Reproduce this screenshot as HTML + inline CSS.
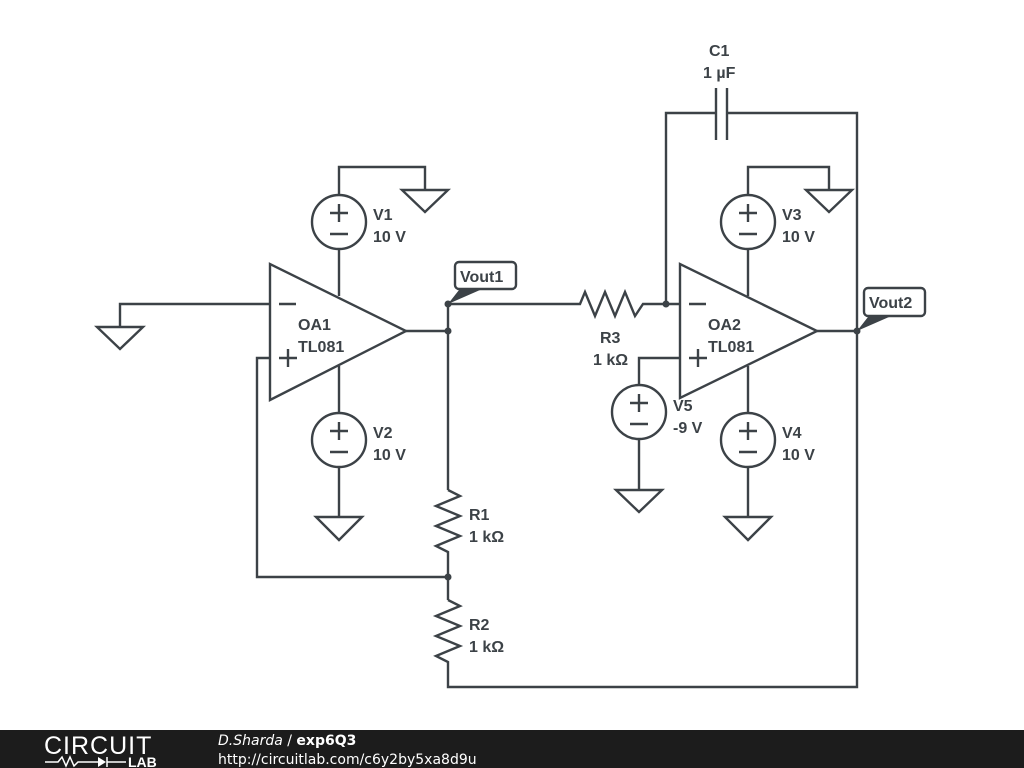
<!DOCTYPE html>
<html><head><meta charset="utf-8"><style>
body{margin:0;width:1024px;height:768px;overflow:hidden;background:#fff}
svg{display:block}
text{font-family:"Liberation Sans",Arial,sans-serif;font-weight:bold;font-size:16px;fill:#3c4247}
</style></head><body>
<svg width="1024" height="768" viewBox="0 0 1024 768">
<g stroke="#3c4247" stroke-width="2.4" fill="none">
<!-- OA1 -->
<polygon points="270,264 270,400 406,331" fill="#fff"/>
<line x1="279" y1="304" x2="296" y2="304"/><line x1="279" y1="358" x2="297" y2="358"/><line x1="288" y1="349" x2="288" y2="367"/>
<!-- V1 -->
<circle cx="339" cy="222" r="27"/>
<line x1="330" y1="213" x2="348" y2="213"/><line x1="339" y1="204" x2="339" y2="222"/><line x1="330" y1="234" x2="348" y2="234"/>
<polyline points="339,195 339,167 425,167 425,190"/>
<polygon points="402,190 448,190 425,212"/>
<line x1="339" y1="249" x2="339" y2="296"/>
<!-- V2 -->
<line x1="339" y1="366" x2="339" y2="413"/>
<circle cx="339" cy="440" r="27"/>
<line x1="330" y1="431" x2="348" y2="431"/><line x1="339" y1="422" x2="339" y2="440"/><line x1="330" y1="452" x2="348" y2="452"/>
<line x1="339" y1="467" x2="339" y2="517"/>
<polygon points="316,517 362,517 339,540"/>
<!-- left ground -->
<polyline points="270,304 120,304 120,327"/>
<polygon points="97,327 143,327 120,349"/>
<!-- plus feedback -->
<polyline points="270,358 257,358 257,577 448,577"/>
<!-- output -->
<line x1="406" y1="331" x2="448" y2="331"/>
<line x1="448" y1="304" x2="448" y2="490"/>
<polyline points="448,490 460,496 436,506 460,516 436,526 460,536 436,546 448,552 448,600"/>
<polyline points="448,600 460,606 436,616 460,626 436,636 460,646 436,656 448,662 448,687 857,687 857,113 727,113"/>
<!-- C1 -->
<line x1="716" y1="88" x2="716" y2="140"/><line x1="727" y1="88" x2="727" y2="140"/>
<polyline points="716,113 666,113 666,304"/>
<!-- R3 -->
<polyline points="448,304 580,304 585,292 595,316 605,292 615,316 625,292 635,316 643,304 680,304"/>
<!-- OA2 -->
<polygon points="680,264 680,398 817,331" fill="#fff"/>
<line x1="689" y1="304" x2="706" y2="304"/><line x1="689" y1="358" x2="707" y2="358"/><line x1="698" y1="349" x2="698" y2="367"/>
<!-- V3 -->
<circle cx="748" cy="222" r="27"/>
<line x1="739" y1="213" x2="757" y2="213"/><line x1="748" y1="204" x2="748" y2="222"/><line x1="739" y1="234" x2="757" y2="234"/>
<polyline points="748,195 748,167 829,167 829,190"/>
<polygon points="806,190 852,190 829,212"/>
<line x1="748" y1="249" x2="748" y2="296"/>
<!-- V4 -->
<line x1="748" y1="366" x2="748" y2="413"/>
<circle cx="748" cy="440" r="27"/>
<line x1="739" y1="431" x2="757" y2="431"/><line x1="748" y1="422" x2="748" y2="440"/><line x1="739" y1="452" x2="757" y2="452"/>
<line x1="748" y1="467" x2="748" y2="517"/>
<polygon points="725,517 771,517 748,540"/>
<!-- V5 -->
<polyline points="680,358 639,358 639,385"/>
<circle cx="639" cy="412" r="27"/>
<line x1="630" y1="403" x2="648" y2="403"/><line x1="639" y1="394" x2="639" y2="412"/><line x1="630" y1="424" x2="648" y2="424"/>
<line x1="639" y1="439" x2="639" y2="490"/>
<polygon points="616,490 662,490 639,512"/>
<line x1="817" y1="331" x2="857" y2="331"/>
<!-- labels -->
<rect x="455" y="262" width="61" height="27" rx="4" fill="#fff"/>
<rect x="864" y="288" width="61" height="28" rx="4" fill="#fff"/>
</g>
<g fill="#3c4247">
<circle cx="448" cy="304" r="3.5"/><circle cx="448" cy="331" r="3.5"/><circle cx="448" cy="577" r="3.5"/>
<circle cx="666" cy="304" r="3.5"/><circle cx="857" cy="331" r="3.5"/>
<polygon points="448,304 459,290 480,290"/>
<polygon points="857,331 868,317 889,317"/>
</g>
<text x="460" y="282">Vout1</text>
<text x="869" y="308">Vout2</text>
<text x="709" y="56">C1</text><text x="703" y="78">1 µF</text>
<text x="373" y="220">V1</text><text x="373" y="242">10 V</text>
<text x="373" y="438">V2</text><text x="373" y="460">10 V</text>
<text x="298" y="330">OA1</text><text x="298" y="352">TL081</text>
<text x="708" y="330">OA2</text><text x="708" y="352">TL081</text>
<text x="782" y="220">V3</text><text x="782" y="242">10 V</text>
<text x="782" y="438">V4</text><text x="782" y="460">10 V</text>
<text x="673" y="411">V5</text><text x="673" y="433">-9 V</text>
<text x="600" y="343">R3</text><text x="593" y="365">1 kΩ</text>
<text x="469" y="520">R1</text><text x="469" y="542">1 kΩ</text>
<text x="469" y="630">R2</text><text x="469" y="652">1 kΩ</text>
<rect x="0" y="730" width="1024" height="38" fill="#1c1c1c"/>
<text x="44" y="754" style="font-weight:normal;font-size:25px;fill:#fff;letter-spacing:1px">CIRCUIT</text>
<text x="128" y="767" style="font-size:14px;fill:#fff">LAB</text>
<polyline points="45,762 58,762 62,757 66,766 70,757 74,766 78,762 98,762" stroke="#fff" stroke-width="1.5" fill="none"/>
<polygon points="98,757 98,767 106,762" fill="#fff"/>
<line x1="107" y1="757" x2="107" y2="767" stroke="#fff" stroke-width="1.5"/>
<line x1="107" y1="762" x2="126" y2="762" stroke="#fff" stroke-width="1.5"/>
<text x="218" y="745" style="font-family:'DejaVu Sans',sans-serif;font-weight:normal;font-style:italic;font-size:14px;fill:#fff">D.Sharda <tspan font-style="normal">/</tspan> <tspan font-style="normal" font-weight="bold">exp6Q3</tspan></text>
<text x="218" y="764" style="font-family:'DejaVu Sans',sans-serif;font-weight:normal;font-size:14px;fill:#fff">http://circuitlab.com/c6y2by5xa8d9u</text>
</svg>
</body></html>
